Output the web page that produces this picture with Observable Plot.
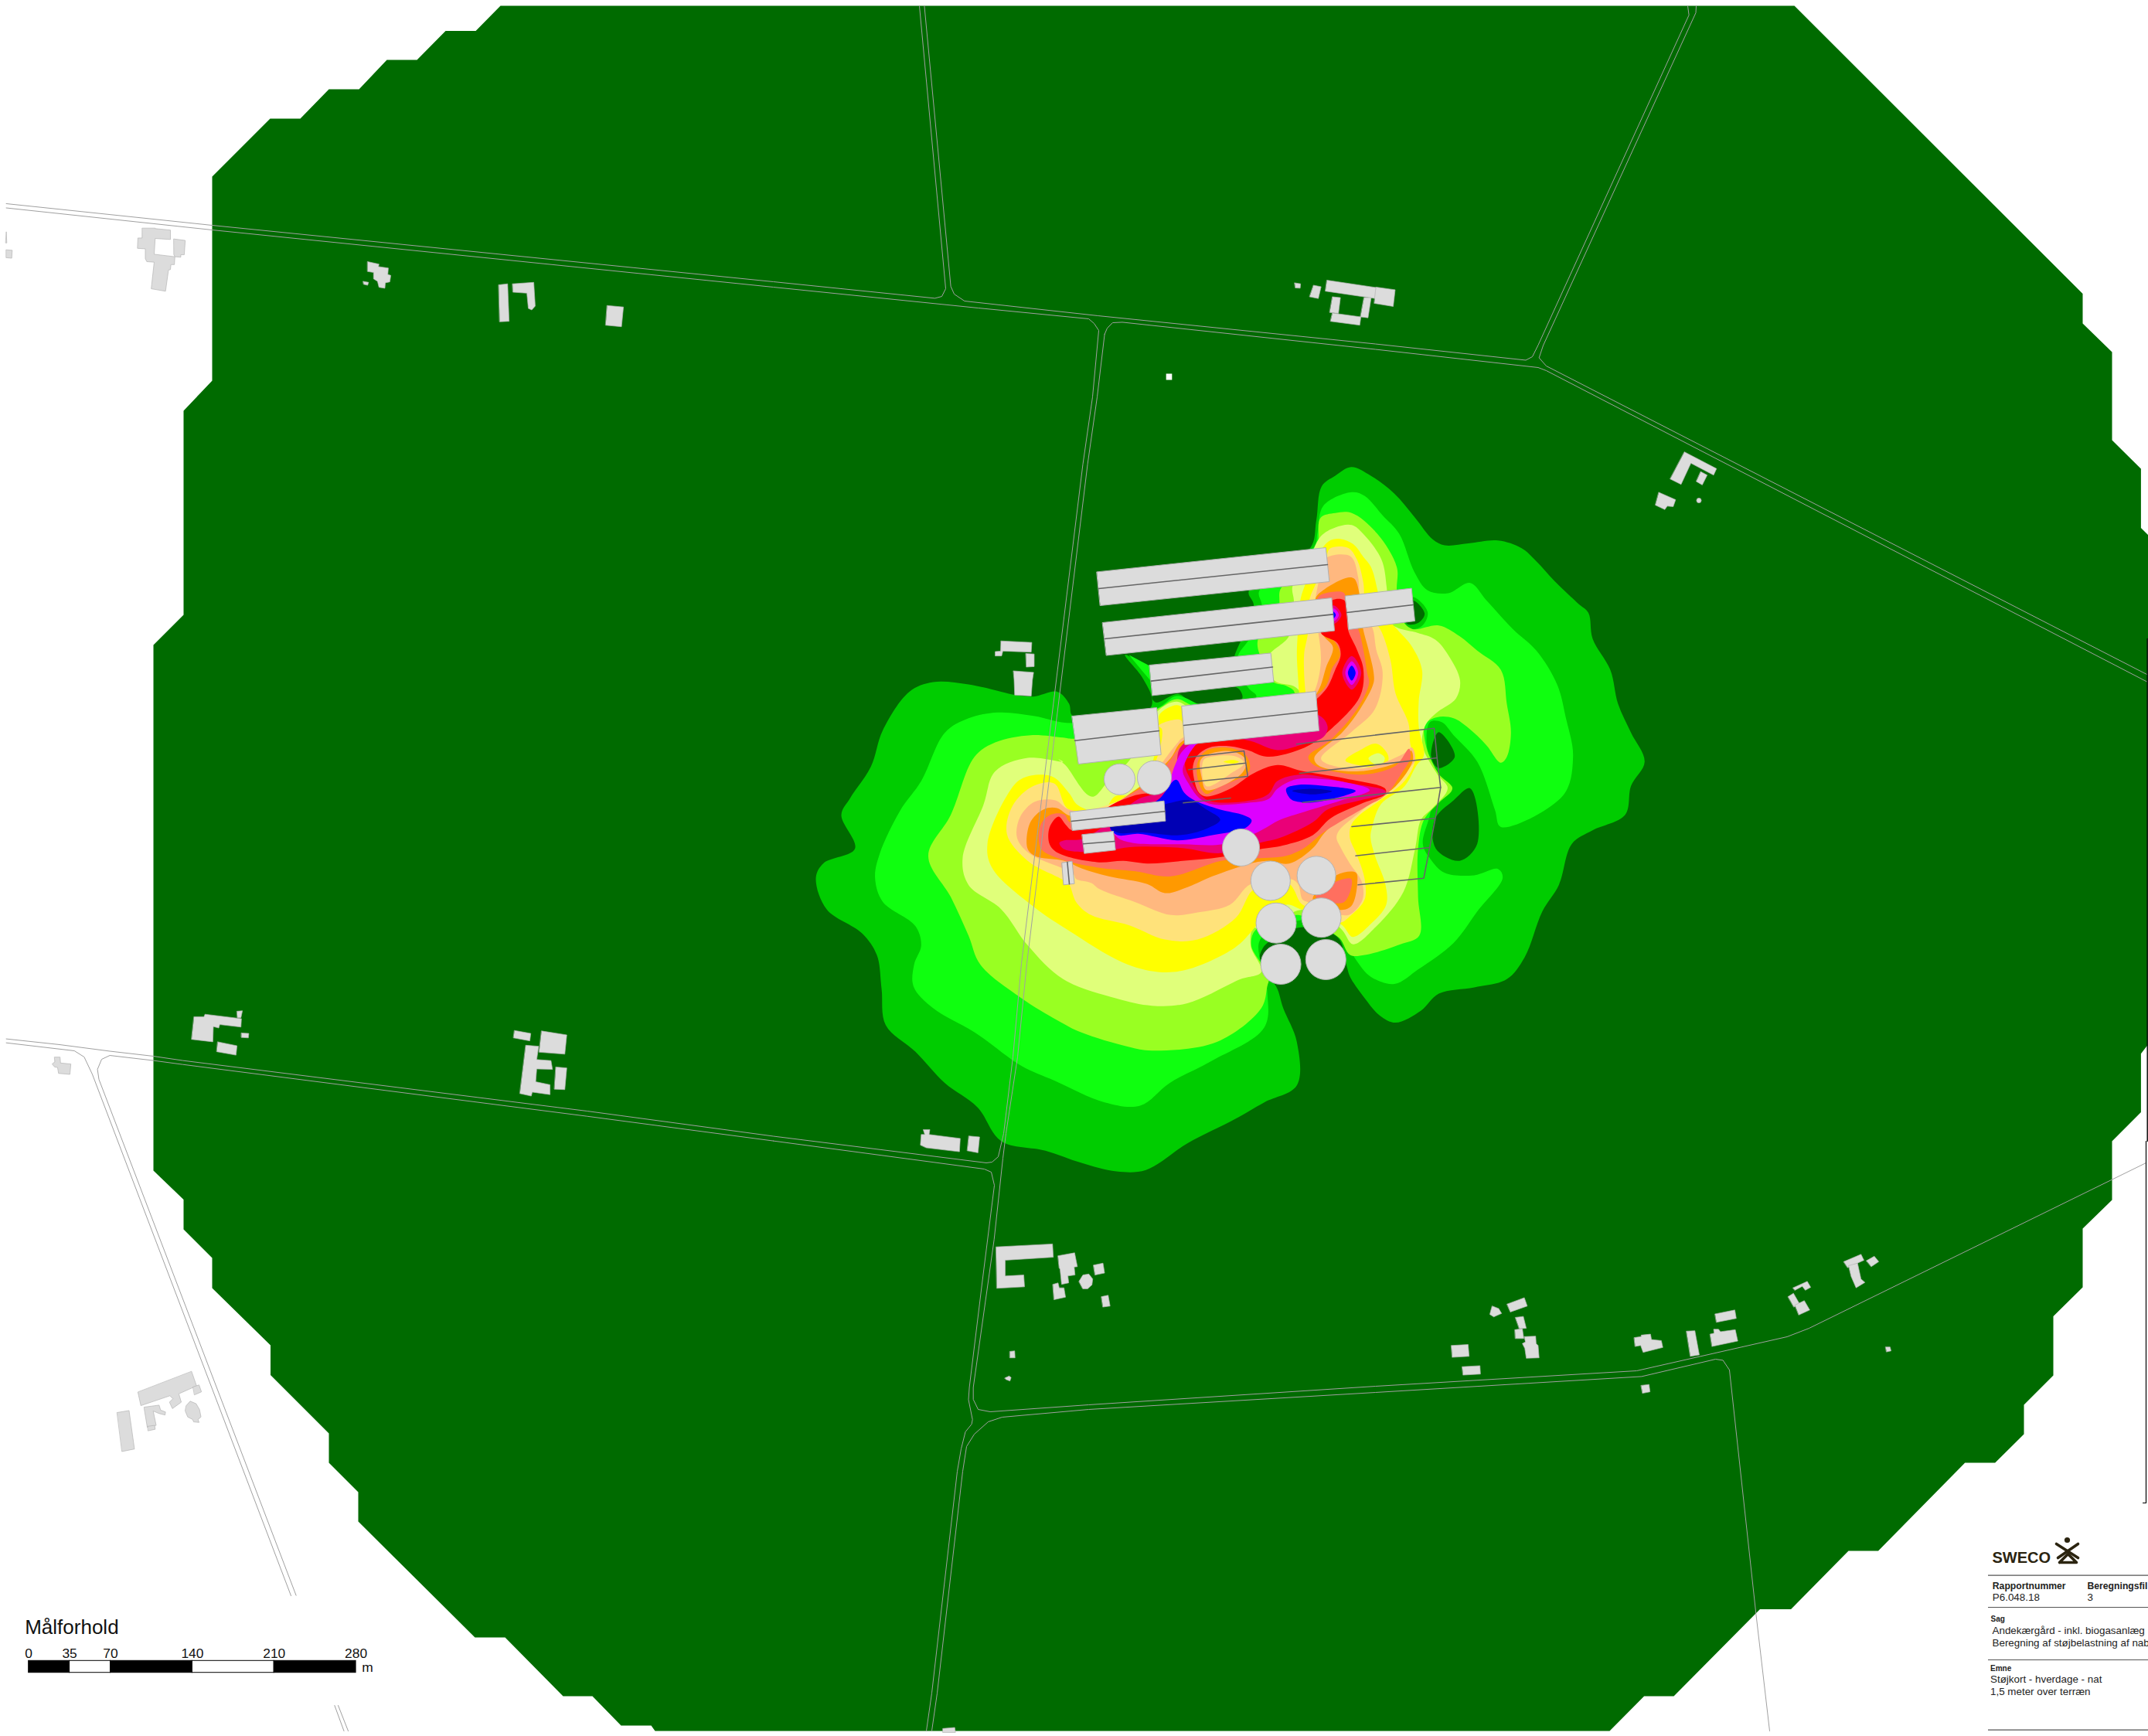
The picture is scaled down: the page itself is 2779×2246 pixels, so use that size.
<!DOCTYPE html>
<html><head><meta charset="utf-8">
<style>html,body{margin:0;padding:0;background:#fff;overflow:hidden}svg{display:block}</style>
<script src="https://cdn.jsdelivr.net/npm/d3@7"></script>
<script src="https://cdn.jsdelivr.net/npm/@observablehq/plot@0.6"></script>
</head><body><div id="chart"></div>
<script>
const rd=(x0,y0,sx,sy)=>pts=>pts.map(([x,y])=>[x0+x/sx,y0+y/sy]);
const A=rd(0,0,1.568,1.568),B=rd(1779,0,1.568,1.568),C=rd(0,1246,1.568,1.568),D=rd(1779,1246,1.568,1.568);
const E=rd(1000,1246,1.96,1.568),F=rd(1000,0,1.96,2.613),Z1=rd(1000,560,1.3067,1.6),Z4=rd(1300,850,2.613,3),Z11=rd(1380,690,3,3);

const groundColor="#006b00", buildingColor="#dcdcdc";
const contourColors=["#00cc00","#0fff0f","#99ff22","#e0ff7a","#ffff00","#ffe27a","#ffb87f","#ff9900","#ff6f5f","#ff0000","#ea0078","#dd00ff","#0000ff","#0000b4"];

const calculationArea=[[647,7],[2321,7],[2694,379.5],[2694,418],[2732,455],[2732,569],[2769.4,606],[2769.4,682.4],[2779,692],[2779,826],[2777.7,826],[2777.7,1352],[2769.4,1362.7],[2769.4,1438.6],[2732,1476],[2732,1552],[2694,1589],[2694,1665],[2656,1702.6],[2656,1779],[2618,1817],[2618,1855],[2580.7,1892],[2541.7,1892],[2429.5,2006],[2391,2006],[2316.6,2081.5],[2276.5,2081.5],[2165,2194],[2126.6,2194],[2082,2239],[847,2239],[842,2232],[803,2232],[766,2194],[728,2194],[653,2118],[614,2118],[463,1968],[463,1930],[425,1892],[425,1854],[349.5,1778.5],[349.5,1740],[274,1666],[274,1627],[237,1590],[237,1551.5],[198,1514],[198,834],[237,795],[237,531],[274,492],[274,228],[349,153],[388,153],[425,115],[464,115],[500,77],[539,77],[576,39.5],[615,39.5]];

const level1=[...Z1([[977,70],[1010,88],[1050,125],[1085,175],[1115,220],[1135,232],[1175,228],[1225,222],[1265,238],[1290,265],[1320,305],[1360,352],[1378,372],[1385,425],[1415,490],[1428,560],[1450,620],[1473,680],[1450,730],[1440,790],[1385,822],[1350,850],[1328,935],[1300,990],[1270,1085],[1240,1130],[1185,1147],[1125,1160],[1095,1195],[1052,1220],[1025,1205],[1000,1170],[975,1125]]),
 ...Z4([[1155,1200],[1130,1095],[1080,1060],[1000,1048],[930,1075],[870,1130],[860,1200]]),
 ...Z1([[850,1145],[862,1190],[885,1260],[885,1350],[830,1385],[780,1420],[700,1470],[630,1525],[580,1528],[520,1510],[460,1485],[385,1465],[345,1395],[290,1345],[240,1280],[190,1225],[183,1150],[175,1080],[150,1035],[90,985],[72,920],[85,890],[138,860],[115,790],[130,755],[165,690],[185,615],[230,535],[270,515],[330,520],[385,535],[410,542],[440,545],[480,535],[500,560]]),
 ...Z11([[20,705],[100,700],[320,680],[330,640],[290,555],[225,470],[325,515],[640,520],[650,475],[725,280],[705,225],[800,130]]),
 ...Z1([[908,237],[918,180],[927,110],[950,88]])];

const level2=[...Z1([[978,122],[1000,130],[1030,170],[1058,208],[1084,288],[1106,325],[1141,331],[1178,310],[1205,345],[1250,405],[1290,450],[1325,520],[1340,590],[1352,670],[1335,750],[1230,815],[1220,780],[1190,680],[1150,625],[1130,598],[1110,598],[1105,650],[1122,712],[1110,790],[1098,850],[1110,880],[1135,910],[1185,915],[1225,902],[1233,920],[1190,990],[1150,1055],[1090,1110],[1050,1140],[1010,1125],[985,1090],[965,1045]]),
 ...Z4([[1085,1040],[1000,1020],[940,1045],[860,1100]]),
 ...Z1([[835,1155],[830,1230],[740,1300],[670,1345],[620,1392],[560,1385],[475,1340],[420,1310],[340,1240],[270,1190],[237,1145],[238,1100],[250,1060],[240,1020],[185,970],[172,920],[180,870],[215,780],[250,720],[290,620],[330,590],[380,578],[440,585],[505,600]]),
 ...Z11([[345,680],[425,630],[510,662],[600,700],[735,632],[705,600],[660,520],[665,470],[700,420],[760,330],[755,270],[745,225],[860,120],[960,50]]),
 ...Z1([[920,205],[930,150]])];
const level2Wedge=Z11([[240,470],[325,515],[328,575],[290,530]]);

const level3=[...Z1([[925,175],[950,165],[978,165],[1021,208],[1054,277],[1054,325],[1060,380],[1080,405],[1125,398],[1160,420],[1190,450],[1230,490],[1240,560],[1247,620],[1240,670],[1230,682],[1205,645],[1175,610],[1150,590],[1122,588],[1102,603],[1104,650],[1125,705],[1148,735],[1125,765],[1100,800],[1090,860],[1090,960],[1092,1040],[1060,1058],[1000,1080],[975,1080]]),
 ...Z4([[1130,1090],[1060,1040],[990,1000],[930,1020],[845,1060],[832,1120]]),
 ...Z1([[838,1125],[835,1145],[825,1190],[750,1260],[640,1278],[600,1270],[520,1240],[480,1215],[420,1170],[350,1100],[330,1040],[300,960],[262,875],[300,790],[340,670],[375,640],[435,625],[490,630],[510,632]]),
 ...Z11([[350,680],[425,642],[500,672],[700,680],[880,640],[880,610],[850,590],[800,575],[760,500],[740,415],[820,300],[825,225],[835,205],[900,130],[970,50]])];

const level4=[...Z1([[950,195],[978,190],[997,208],[1028,261],[1037,320],[1040,390],[1056,403],[1089,413],[1119,427],[1141,459],[1161,512],[1154,549],[1124,576],[1106,597],[1098,620],[1098,650],[1122,705],[1140,735],[1115,775],[1095,800],[1085,860],[1065,950],[1020,1020],[980,1058]]),
 ...Z4([[1140,1060],[1080,1000],[1000,980],[960,1000],[910,1080],[840,1050],[830,1120]]),
 ...Z1([[825,1115],[790,1130],[700,1180],[640,1185],[580,1170],[490,1130],[430,1060],[385,985],[330,935],[320,880],[355,770],[375,700],[430,672],[490,680]]),
 ...Z4([[180,395],[205,420],[275,530],[300,540],[355,470],[420,400]]),
 ...Z11([[350,690],[425,652],[490,680],[700,680],[905,630],[905,615],[880,592],[805,570],[780,480],[860,400],[880,300],[880,255],[875,205],[930,120],[985,10]])];

const level5=[...Z11([[1015,30],[1060,20],[1110,40],[1150,90],[1180,130],[1205,220],[1220,300],[1280,370],[1340,440],[1378,530],[1365,650],[1365,750],[1385,860]]),
 ...Z4([[1390,420],[1350,500],[1270,570],[1240,660],[1235,700],[1250,770],[1285,880],[1288,960],[1240,1030],[1175,1085],[1140,1040],[1060,990],[1000,978],[950,960],[850,1040],[832,1065]]),
 ...Z1([[780,1065],[700,1110],[650,1115],[590,1095],[500,1030],[440,980],[370,900],[362,850],[395,750],[420,715],[470,710],[500,745],[515,770]]),
 ...Z4([[330,600],[370,540],[440,530],[500,400]]),
 ...Z11([[355,740],[360,700],[425,665],[470,685],[700,680],[900,640],[900,610],[892,470],[895,395],[905,260],[925,195],[960,110]])];

const level6=[...Z11([[1020,58],[1090,55],[1125,100],[1150,190],[1160,300],[1215,370],[1255,490],[1275,620],[1325,735]]),
 ...Z4([[1370,340],[1385,400],[1350,480],[1260,560],[1200,610],[1170,650],[1165,700],[1190,770],[1215,860],[1215,940],[1170,1000],[1130,1030],[1060,980],[1003,958],[975,900],[960,880],[900,870],[835,905],[780,1010],[650,1095],[540,1095],[420,1040],[290,1000],[240,950],[215,880],[190,860]]),
 ...Z1([[430,885],[395,830],[405,770],[440,730],[475,725]]),
 ...Z4([[215,590],[340,575],[440,520],[510,400],[530,280]]),
 ...Z11([[355,745],[440,722],[460,760],[700,700],[930,640],[925,610],[920,470],[935,385],[940,260],[965,195],[1003,110]])];

const level7=[...Z11([[1005,95],[1100,88],[1130,170],[1140,300],[1185,365],[1200,450],[1225,540]]),
 ...Z4([[1250,200],[1170,290],[1068,395],[1200,432],[1345,375],[1375,350],[1385,400],[1345,450],[1280,520],[1200,600],[1130,670],[1120,700],[1135,740],[1165,800],[1205,870],[1208,940],[1170,995],[1135,1000],[1060,960],[1025,950],[1005,940],[990,880],[965,860],[830,880],[760,960],[650,990],[560,1000],[440,950],[320,900],[290,875],[240,860],[230,840],[80,760],[40,700],[50,620],[100,560],[170,555],[215,590],[330,590],[420,530],[480,490],[530,410],[580,335],[603,310]]),
 ...Z11([[930,650],[960,612],[985,500],[975,385],[955,300],[965,245],[985,150]])];

const level8=[...Z11([[965,250],[1000,215],[1090,170],[1115,175],[1135,235],[1140,300],[1148,365],[1170,450],[1190,540]]),
 ...Z4([[1245,100],[1200,200],[1140,290],[1045,390],[1060,420],[1200,442],[1340,400],[1372,362],[1378,400],[1320,500],[1250,555],[1140,620],[1080,680],[1040,740],[960,800],[890,790],[830,800],[700,850],[620,890],[540,915],[480,880],[350,850],[260,820],[200,790],[100,770],[75,740],[85,640],[130,590],[175,585],[220,615],[330,600],[420,530],[480,480],[560,390],[600,325]]),
 ...Z11([[900,700],[975,610],[1005,520],[1032,440],[995,395],[970,320]])];

const level9=[...Z11([[975,245],[1040,225],[1075,230],[1085,265],[1100,320],[1130,370],[1150,450],[1165,540]]),
 ...Z4([[1230,100],[1190,200],[1100,320],[1025,385],[1040,415],[1200,455],[1320,420],[1365,355],[1370,390],[1340,450],[1290,530],[1220,580],[1130,640],[1075,680],[1010,740],[950,770],[850,780],[730,790],[560,850],[440,830],[310,815],[180,780],[120,740],[120,650],[155,610],[200,610],[220,640],[350,580],[440,520],[500,480],[560,395],[600,340]]),
 ...Z11([[990,610],[1030,520],[1060,470],[1040,420],[1000,390],[960,320]])];

const level10=[...Z11([[1030,258],[1075,258],[1090,300],[1090,370],[1125,450],[1150,525]]),
 ...Z4([[1200,150],[1100,280],[1030,340],[950,375],[880,385],[820,360],[760,345],[690,350],[650,380],[635,420],[640,480],[655,525],[680,540],[760,510],[840,450],[920,418],[1000,440],[1150,470],[1285,510],[1285,530],[1210,565],[1100,625],[1040,690],[940,730],[860,745],[730,775],[600,790],[480,800],[400,790],[310,795],[180,760],[150,725],[150,660],[180,618],[205,650],[225,670],[300,640],[350,580],[440,535],[520,515],[590,420],[615,345]]),
 ...Z11([[880,700],[1000,610],[1040,530],[1062,470],[1050,425],[985,385],[1000,300]])];

const level11=Z4([[1060,225],[1090,270],[1075,310],[1000,340],[920,360],[830,325],[740,310],[660,320],[620,360],[608,420],[625,470],[660,535],[700,560],[830,555],[890,530],[920,480],[1000,455],[1150,485],[1285,518],[1285,528],[1200,555],[1090,590],[1040,640],[930,700],[860,720],[730,760],[600,740],[440,735],[300,755],[200,745],[183,720],[200,710],[260,705],[340,650],[450,550],[530,520],[575,450],[595,345],[800,250]]);
const level12=Z4([[1232,515],[1140,482],[1000,470],[965,480],[920,510],[890,550],[820,565],[700,570],[655,545],[620,490],[600,440],[615,390],[640,345],[655,330],[625,338],[595,370],[570,430],[540,530],[450,600],[360,660],[380,700],[430,720],[600,725],[735,725],[850,680],[930,630],[1010,600],[1150,550]]);
const level13a=Z4([[578,475],[605,525],[640,555],[725,590],[805,612],[833,632],[815,660],[700,690],[580,710],[450,685],[380,690],[355,660],[450,600],[520,550]]);
const level13b=Z4([[950,510],[990,495],[1090,500],[1185,518],[1060,560],[1005,563],[965,550]]);
const level14a=Z4([[540,570],[625,555],[680,590],[727,630],[680,665],[590,690],[470,680],[380,680],[355,660],[450,600]]);
const level14b=Z4([[970,518],[1040,510],[1105,520],[1040,532]]);

const pocketNorth=Z11([[330,632],[660,598],[680,640],[600,650],[510,660],[470,645],[430,622],[345,655]]);
const holeUpper=Z4([[1465,290],[1520,385],[1465,430],[1440,385]]);
const holeLower=Z1([[1178,735],[1190,850],[1160,885],[1120,860],[1118,800],[1150,760]]);
const ringBarn=Z11([[1340,245],[1400,305],[1375,360],[1310,368],[1290,300]]);
const holeBarn=Z11([[1340,258],[1388,310],[1365,345],[1320,350],[1300,300]]);

const lobeSouth=[
 [7,Z4([[1120,845],[1185,835],[1190,880],[1170,965],[1130,980],[1040,940]])],
 [8,Z4([[1100,880],[1170,860],[1145,950],[1050,930]])]
];
const islandRings=[
 [7,Z4([[650,410],[680,362],[760,352],[815,382],[825,440],[720,505],[680,530],[655,490]])],
 [6,Z4([[660,400],[690,375],[770,365],[815,400],[800,450],[680,515],[665,470]])],
 [5,Z4([[670,400],[700,385],[780,385],[808,410],[770,445],[680,500]])],
 [4,Z4([[738,405],[770,398],[790,405],[770,412]])]
];
const sideIsland=[
 [4,Z4([[1150,400],[1200,360],[1255,335],[1290,370],[1295,400],[1265,425],[1200,420]])],
 [3,Z4([[1228,392],[1262,372],[1283,390],[1275,412],[1250,415]])]
];
const hotSpots=[
 [10,Z11([[1105,475],[1142,540],[1105,605],[1068,540]])],
 [11,Z11([[1105,495],[1130,540],[1105,587],[1080,540]])],
 [12,Z11([[1105,512],[1120,540],[1105,570],[1090,540]])],
 [10,Z11([[1035,278],[1065,315],[1035,350],[1000,315]])],
 [11,Z11([[1035,290],[1055,315],[1035,340],[1010,315]])],
 [12,Z11([[1033,302],[1043,315],[1033,330],[1020,315]])]
];

const roads=[
 [[7.6,263],[274,291],[1000,364],[1209,385.4],[1218,383],[1223,373],[1189,7]],
 [[7.6,268.5],[274,297],[1000,371],[1265,398],[1408,412],[1415,418],[1421,427],[1413,513],[1400.5,600],[1321,1246],[1310,1367],[1298,1466],[1291,1496],[1283,1503],[1275.5,1504],[1000,1469.5],[759,1437],[236,1371.6],[198,1366],[141.6,1359.5],[76.5,1351],[7.6,1343.6]],
 [[1195.4,7],[1229.6,370],[1234,380],[1247.4,389],[1420,408],[1779,444.5],[1973.5,465.5],[1982,461],[1989.5,446],[2184.6,19],[2183,7]],
 [[2194,7],[2193.5,16],[1996,446.5],[1990.7,462.4],[2000,473],[2777,872]],
 [[1428.6,432],[1432,424],[1439,417],[1451.5,416.4],[1779,451.5],[1989.5,475],[2000,479],[2777,881.4]],
 [[1428.6,432],[1419,513],[1406.6,600],[1328,1246],[1316,1367],[1301,1466],[1297,1498],[1285.7,1603],[1258.7,1794.5],[1258.7,1810],[1265,1823],[1280.6,1826],[1408,1817],[1779,1793],[2117,1773],[2311.5,1729],[2340,1718],[2776,1504]],
 [[1000,1475.6],[1273,1512],[1282,1516],[1286,1533],[1270,1660.5],[1253.6,1794.5],[1252.5,1810.4],[1257.7,1836],[1256.6,1842],[1248.5,1852],[1243,1874],[1238,1903],[1205,2190],[1198,2239]],
 [[1000,1475.6],[759,1443.7],[236,1376.7],[198,1371.6],[141.6,1365],[131,1370],[125.6,1383],[127.5,1396],[382.6,2063.6]],
 [[7.6,1348.7],[95.7,1359],[108.4,1367],[119,1389.5],[376,2064]],
 [[2237,1772],[2228.6,1759.4],[2219,1758],[2123.4,1780.4],[1779,1801],[1408,1823],[1296,1833],[1278,1839],[1260,1855],[1250,1871],[1245,1903],[1212,2190],[1205,2239]],
 [[2237,1772],[2271.4,2088],[2289,2239]],
 [[432.4,2206],[444.5,2239]],
 [[437,2206],[450,2239]]
];

const buildings=[
 ...[[[288,462],[314,462],[314,463],[345,466],[345,485],[314,483],[312,515],[354,520],[353,536],[346,536],[345,546],[341,547],[335,590],[306,585],[312,531],[297,530],[294,524],[294,504],[278,503],[279,482],[287,482]],[[352,484],[375,487],[373,516],[366,516],[366,521],[354,520],[352,516]],[[12,470],[13,492],[11,492]],[[12,506],[24,507],[23,523],[12,522]],[[745,530],[768,535],[767,540],[787,543],[786,556],[792,558],[790,571],[781,573],[780,584],[768,582],[765,570],[757,565],[757,552],[745,550]],[[736,570],[747,572],[745,578],[737,576]],[[1011,577],[1029,575],[1032,651],[1013,652]],[[1039,575],[1082,572],[1085,620],[1078,628],[1071,625],[1068,594],[1040,592]],[[1231,619],[1264,622],[1260,662],[1228,659]]].map(A),
 ...[[[1322,955],[1337,958],[1336,973],[1324,972]],[[1370,963],[1389,968],[1382,1008],[1360,1002]],[[1404,946],[1530,971],[1527,1008],[1400,983]],[[1418,1002],[1438,1005],[1433,1058],[1411,1055]],[[1498,1005],[1516,1005],[1508,1073],[1489,1070]],[[1418,1057],[1490,1070],[1487,1098],[1413,1085]]].map(F),
 [[1780,371],[1804.5,374.4],[1802,396],[1777.5,392]],
 ...[[[627,916],[692,950],[686,963],[640,939],[620,982],[598,971]],[[660,956],[673,963],[663,983],[651,976]],[[575,998],[609,1013],[604,1027],[592,1026],[587,1033],[568,1024]]].map(B),
 ...[[[393,108],[413,108],[415,103],[489,112],[488,129],[445,124],[443,131],[432,128],[431,159],[388,154]],[[480,97],[491,96],[488,110],[481,110]],[[489,141],[504,142],[503,151],[489,150]],[[441,159],[480,167],[478,186],[439,179]],[[1043,136],[1076,142],[1074,157],[1041,151]],[[1098,137],[1149,145],[1145,184],[1093,180]],[[1066,166],[1092,168],[1088,195],[1117,197],[1120,215],[1088,214],[1086,240],[1115,246],[1115,266],[1079,261],[1077,269],[1054,264]],[[1127,210],[1149,212],[1145,256],[1124,255]],[[110,190],[121,190],[122,202],[143,204],[141,225],[118,223],[116,211],[110,210],[105,204],[110,200]],[[388,828],[398,857],[362,873],[367,890],[349,903],[343,890],[350,883],[344,877],[285,897],[279,870]],[[391,859],[403,855],[408,869],[394,875]],[[292,900],[322,896],[325,906],[335,910],[334,916],[322,913],[310,908],[316,937],[298,941],[292,905]],[[299,939],[313,937],[314,945],[300,948]],[[377,897],[385,888],[397,893],[404,905],[407,920],[401,925],[403,931],[392,930],[390,925],[380,920],[375,908]],[[237,911],[261,907],[272,985],[247,990]]].map(C),
 ...[[[373,368],[375,347],[384,347],[380,337],[397,337],[395,347],[474,355],[472,382],[388,374]],[[496,350],[523,352],[519,384],[492,380]],[[565,575],[708,569],[710,596],[588,602],[588,634],[635,632],[637,656],[567,659]],[[722,593],[764,587],[771,615],[763,616],[765,632],[747,634],[749,648],[731,651],[727,620],[725,618]],[[709,651],[722,648],[725,658],[737,658],[741,677],[712,682]],[[812,612],[836,608],[840,628],[816,632]],[[775,645],[785,632],[800,630],[810,640],[808,652],[797,660],[785,660]],[[832,676],[849,673],[854,695],[836,697]],[[600,787],[612,786],[613,800],[600,800]],[[587,841],[598,837],[603,840],[600,847],[590,844]],[[430,1552],[460,1550],[462,1560],[430,1560]]].map(E),
 ...[[[385,430],[437,433],[436,453],[388,451],[386,461],[375,461],[375,452],[384,451]],[[427,456],[441,457],[441,483],[428,484]],[[406,492],[440,495],[438,511],[436,544],[408,542],[407,510]]].map(Z1),
 ...[[[154,775],[188,773],[190,797],[156,799]],[[176,818],[212,816],[213,833],[178,835]],[[237,695],[250,700],[256,710],[240,717],[232,712],[234,704]],[[267,691],[302,678],[308,695],[274,707]],[[284,718],[300,716],[306,740],[292,741]],[[283,743],[298,741],[301,761],[284,761]],[[302,757],[325,756],[326,771],[330,775],[332,800],[306,801],[303,781],[298,771],[304,768]],[[525,759],[539,757],[539,754],[558,752],[560,763],[580,765],[583,779],[543,789],[538,775],[527,777]],[[631,746],[648,745],[657,794],[639,797]],[[689,711],[729,703],[732,720],[692,728]],[[679,752],[687,750],[686,742],[696,742],[700,747],[730,743],[735,766],[683,777]],[[847,658],[876,645],[883,657],[872,663],[866,655],[851,663]],[[837,676],[848,669],[860,690],[849,697]],[[851,693],[870,684],[881,703],[859,713]],[[950,605],[985,590],[991,602],[958,617]],[[996,603],[1012,594],[1021,605],[1006,615]],[[960,613],[978,608],[985,640],[993,647],[975,658],[965,635]],[[1035,778],[1044,778],[1046,786],[1037,788]],[[539,856],[555,854],[557,869],[542,872]]].map(D)
];
const whiteSpot=F([[996,1262],[1011,1262],[1011,1283],[996,1283]]);

const sheds=[[[1418.6,739.4],[1714.8,708],[1719.4,752],[1423,783]],[[1426,805],[1722.4,773],[1726,815.6],[1431,847.5]],[[1740,770.6],[1825.7,760.6],[1830,803],[1744.6,814]],[[1486.7,860],[1643.6,844.4],[1647.4,882],[1490.5,899.4]],[[1528.5,913],[1701.8,894],[1706,945],[1532.7,963]],[[1386.5,926],[1496,915],[1501.7,976],[1395,988]],[[1384,1050],[1505.5,1035.7],[1507.4,1061.7],[1387,1074]],[[1399.5,1079.3],[1440,1075],[1442.7,1099.3],[1402.6,1103.7]],[[1373.5,1115.7],[1386.5,1113.7],[1389.5,1142.7],[1375.8,1144.3]]];
const ridges=[[[1421,761],[1717,730]],[[1428.6,826],[1724,794.4]],[[1742,792],[1828,782]],[[1489,880.6],[1646,862.5]],[[1531,938],[1704,919]],[[1390,957.7],[1499,945]],[[1385.7,1062],[1506.7,1049.3]],[[1401,1091.3],[1441.6,1088]],[[1380.4,1115],[1383,1143.3]]];
const frames=[[[1677,962.3],[1855,941.7],[1858.7,980],[1863.3,1018.3],[1856.8,1056.7],[1849.2,1096],[1841.5,1135.7],[1756.5,1144.3]],[[1680.8,1000],[1858.7,980]],[[1684.6,1037.7],[1863.3,1018.3]],[[1748.5,1069],[1855,1058.3]],[[1753.5,1106.7],[1849.2,1096]],[[1536.5,979.3],[1609,971],[1613.8,1004],[1540,1011.3]],[[1537.3,995.3],[1611,986.7]],[[1530.4,1038.3],[1591.6,1032]]];
const tanks=[[1448,1007.7,20],[1493,1005.7,22],[1605,1096,24],[1643.3,1139,25.5],[1702.6,1132.3,25],[1650.5,1193.7,26],[1709,1186.7,25.5],[1656.6,1247,26],[1714.8,1241,26],[2197.5,647,3]];

const scaleTicks=[0,35,70,140,210,280];
const scaleCells=[[0,35,"#000"],[35,70,"#fff"],[70,140,"#000"],[140,210,"#fff"],[210,280,"#000"]];
const metresToX=m=>36.7+m*1.512;

const blockRules=[2037.7,2079,2147,2237.7];
const blockHeads=[["Rapportnummer",2577.3,2055,12.2],["Beregningsfil",2700,2055,12.2],["Sag",2575,2097,10],["Emne",2574.5,2161,10]];
const blockText=[
 ["P6.048.18",2577.3,2070],["3",2700,2070],
 ["Andekærgård - inkl. biogasanlæg",2577,2113],["Beregning af støjbelastning af nab",2577,2129],
 ["Støjkort - hverdage - nat",2574.5,2176],["1,5 meter over terræn",2574.5,2192]
];
const logoArms=[[[2660,1997],[2688,2015]],[[2688,1997],[2662,2015]],[[2664,2021],[2686,2021],[2675,2010],[2664,2021]]];

const px=d=>d[0], py=d=>d[1];
const fillLine=(pts,fill,curve="catmull-rom-closed",extra={})=>Plot.line(pts,{x:px,y:py,fill,stroke:"none",curve,...extra});
const ln=(pts,stroke,w)=>Plot.line(pts,{x:px,y:py,stroke,strokeWidth:w,curve:"linear"});
const col=contourColors;
const txt=(data,o)=>Plot.text(data,{fontFamily:"Liberation Sans",lineAnchor:"bottom",...o});

const marks=[
 fillLine(calculationArea,groundColor,"linear-closed"),
 fillLine(level1,col[0]),
 fillLine(pocketNorth,groundColor),fillLine(holeUpper,groundColor),fillLine(holeLower,groundColor),
 fillLine(level2,col[1]),fillLine(level2Wedge,col[1],"linear-closed"),
 fillLine(ringBarn,col[0]),fillLine(holeBarn,groundColor),
 fillLine(level3,col[2]),fillLine(level4,col[3]),fillLine(level5,col[4]),fillLine(level6,col[5]),
 ...sideIsland.map(([i,p])=>fillLine(p,col[i])),
 fillLine(level7,col[6]),fillLine(level8,col[7]),fillLine(level9,col[8]),
 ...lobeSouth.map(([i,p])=>fillLine(p,col[i])),
 fillLine(level10,col[9]),
 ...islandRings.map(([i,p])=>fillLine(p,col[i])),
 fillLine(level11,col[10]),fillLine(level12,col[11]),
 fillLine(level13a,col[12]),fillLine(level13b,col[12]),fillLine(level14a,col[13]),fillLine(level14b,col[13]),
 ...hotSpots.map(([i,p])=>fillLine(p,col[i])),
 ...roads.map(r=>ln(r,"#a0a0a0",1)),
 ...buildings.map(b=>fillLine(b,buildingColor,"linear-closed",{stroke:"#b4b4b4",strokeWidth:.7})),
 fillLine(whiteSpot,"#fff","linear-closed"),
 ...sheds.map(b=>fillLine(b,buildingColor,"linear-closed",{stroke:"#b0b0b0",strokeWidth:1})),
 ...ridges.map(r=>ln(r,"#666",1.6)),
 ...frames.map(r=>ln(r,"#666",1.6)),
 Plot.dot(tanks,{x:px,y:py,r:d=>d[2],fill:buildingColor,stroke:"#b4b4b4",strokeWidth:1}),
 ln([[2777.7,826],[2777.7,1476]],"#000",1.4),ln([[2776,1476],[2776,1944],[2772,1944]],"#000",1.2),
 Plot.rect(scaleCells,{x1:d=>metresToX(d[0]),x2:d=>metresToX(d[1]),y1:2148.3,y2:2163.7,fill:d=>d[2],stroke:"#000",strokeWidth:1}),
 txt(scaleTicks,{x:metresToX,y:2144.3,text:d=>String(d),fontSize:17.4,fill:"#111",textAnchor:"middle"}),
 txt(["m"],{x:475,y:2162.7,text:d=>d,fontSize:17.4,fill:"#111",textAnchor:"middle"}),
 txt(["Målforhold"],{x:31.7,y:2113,text:d=>d,fontSize:26,fill:"#111",textAnchor:"start"}),
 txt(["SWECO"],{x:2577,y:2021.7,text:d=>d,fontSize:20,fontWeight:"bold",fill:"#2b2410",textAnchor:"start"}),
 ...logoArms.map(a=>ln(a,"#2b2410",3.6)),
 Plot.dot([[2674,1992]],{x:px,y:py,r:3.6,fill:"#2b2410"}),
 Plot.ruleY(blockRules,{x1:2572,x2:2779,y:d=>d,stroke:"#555",strokeWidth:1.2}),
 txt(blockHeads,{x:d=>d[1],y:d=>d[2],text:d=>d[0],fontSize:d=>d[3],fontWeight:"bold",fill:"#222",textAnchor:"start"}),
 txt(blockText,{x:d=>d[1],y:d=>d[2],text:d=>d[0],fontSize:13.4,fill:"#222",textAnchor:"start"})
];
const chart=Plot.plot({width:2779,height:2246,margin:0,
 x:{domain:[0,2779],range:[0,2779],axis:null},
 y:{domain:[0,2246],range:[0,2246],axis:null},
 r:{type:"identity"},
 style:{background:"#fff"},marks});
document.getElementById("chart").append(chart);
</script></body></html>
